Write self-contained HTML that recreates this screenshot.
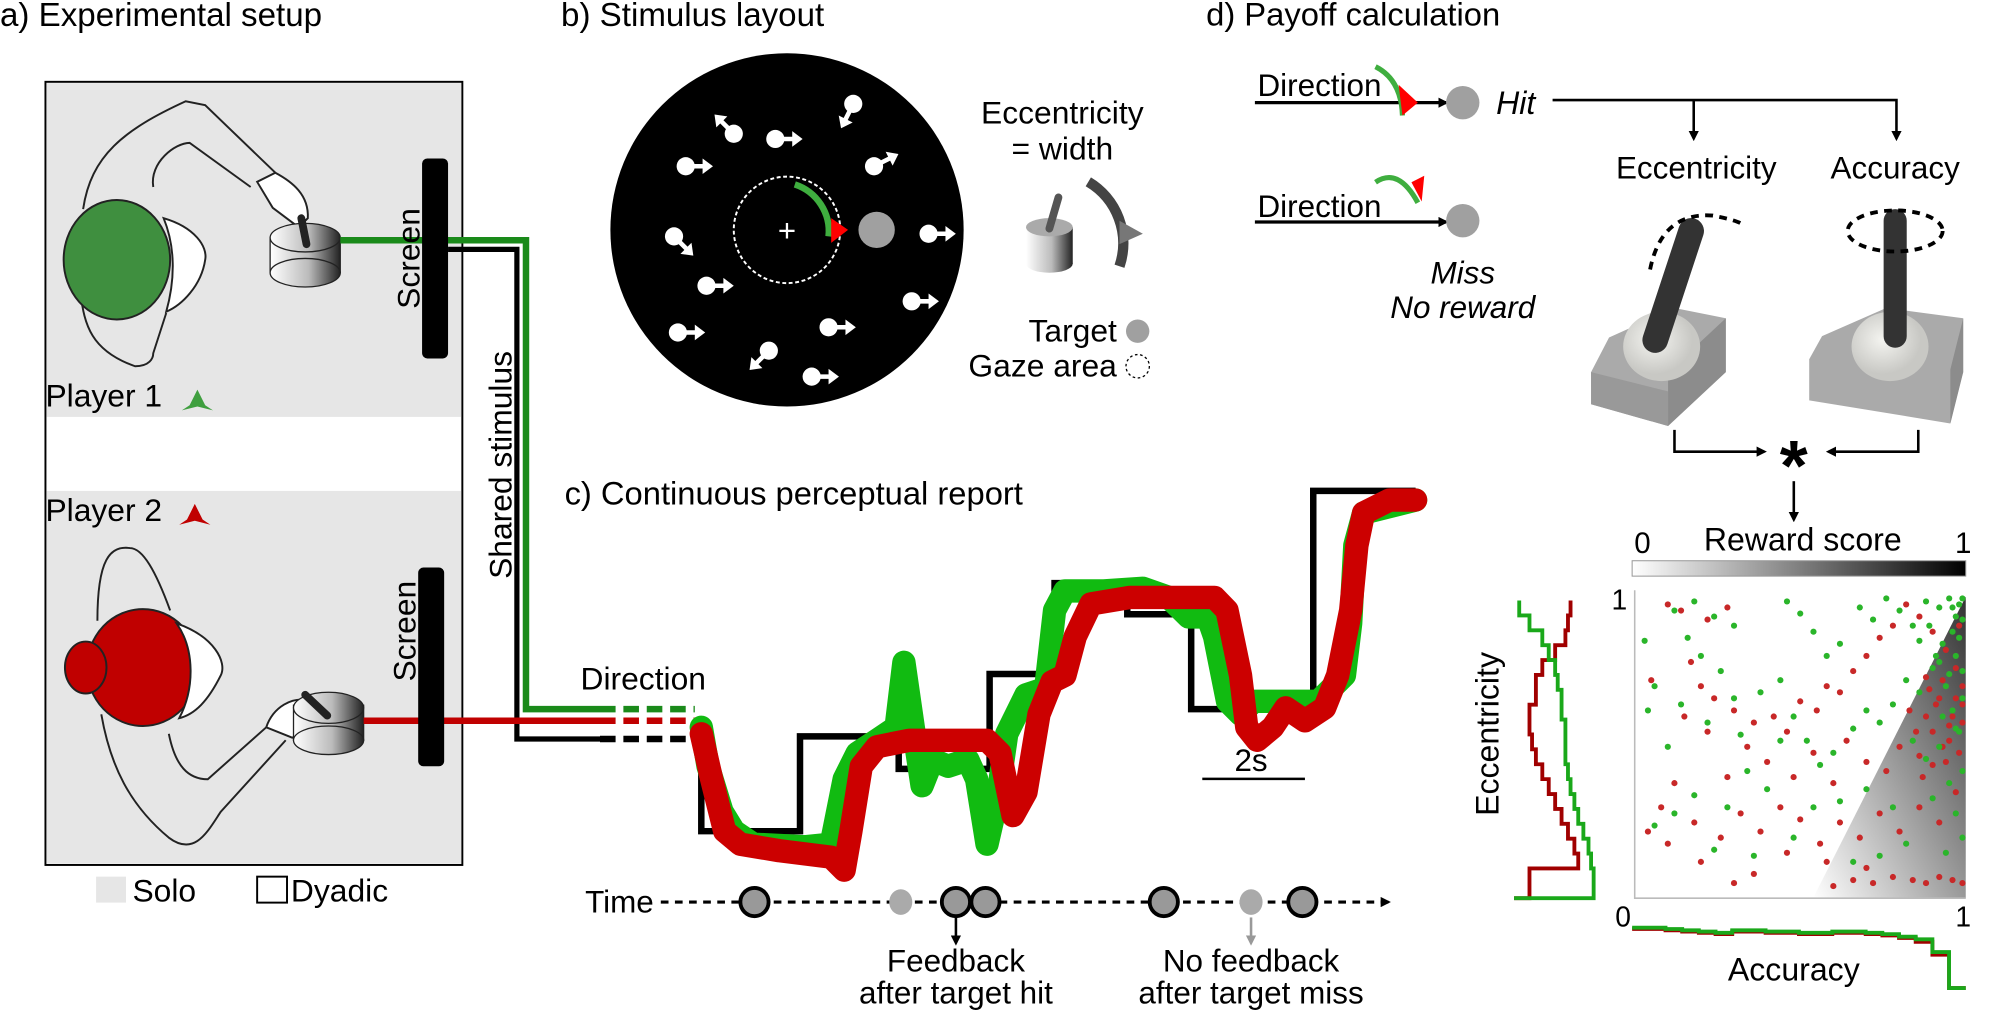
<!DOCTYPE html>
<html><head><meta charset="utf-8"><style>
html,body{margin:0;padding:0;background:#fff;}
svg{display:block;font-family:"Liberation Sans",sans-serif;}
</style></head><body>
<svg id="fig" width="2013" height="1016" viewBox="0 0 1550 782.3" preserveAspectRatio="none" xmlns="http://www.w3.org/2000/svg">
<defs>
<linearGradient id="cyl" x1="0" x2="1"><stop offset="0" stop-color="#fff"/><stop offset="0.55" stop-color="#bbb"/><stop offset="1" stop-color="#222"/></linearGradient>
<linearGradient id="cbar" x1="0" x2="1"><stop offset="0" stop-color="#fff"/><stop offset="1" stop-color="#000"/></linearGradient>
<linearGradient id="tri" x1="0" y1="1" x2="1" y2="0"><stop offset="0" stop-color="#fff"/><stop offset="1" stop-color="#333"/></linearGradient>
<radialGradient id="ball" cx="0.4" cy="0.4"><stop offset="0" stop-color="#f4f4f0"/><stop offset="1" stop-color="#c8c8c4"/></radialGradient>
<marker id="ah" markerWidth="8" markerHeight="8" refX="6" refY="4" orient="auto" markerUnits="userSpaceOnUse"><path d="M0,0 L8,4 L0,8 Z" fill="#000"/></marker>
<marker id="ahg" markerWidth="8" markerHeight="8" refX="6" refY="4" orient="auto" markerUnits="userSpaceOnUse"><path d="M0,0 L8,4 L0,8 Z" fill="#999"/></marker>
</defs>

<!-- Panel a -->
<g>
<text x="0" y="20" font-size="25.5">a) Experimental setup</text>
<rect x="35" y="63" width="321" height="603" fill="#fff" stroke="#000" stroke-width="1.5"/>
<rect x="36" y="64" width="319" height="257" fill="#e6e6e6"/>
<rect x="36" y="378" width="319" height="287" fill="#e6e6e6"/>
<g fill="none" stroke="#222" stroke-width="1.5">
<path d="M64,161 C70,120 95,100 143,78 L158,81 L212,133"/>
<path d="M118,144 C115,125 135,110 146,110 L193,144"/>
<path d="M212,133 C225,140 238,150 237,168 L230,175 L210,160 L198,140 Z" fill="#fff"/>
<path d="M62,226 C65,250 70,270 104,282 C115,282 118,276 118,272 L128,241"/>
<ellipse cx="90" cy="200" rx="41" ry="46" fill="#3f8f3f"/>
<path d="M126,168 C150,175 160,190 158,200 C155,220 140,235 128,240 C135,215 135,190 126,168 Z" fill="#fff"/>
</g>
<g>
<rect x="208" y="183" width="54" height="27" fill="url(#cyl)" stroke="#222"/>
<ellipse cx="235" cy="210" rx="27" ry="11" fill="url(#cyl)" stroke="#222"/>
<ellipse cx="235" cy="183" rx="27" ry="11" fill="url(#cyl)" stroke="#222"/>
<line x1="232" y1="168" x2="236" y2="188" stroke="#222" stroke-width="6" stroke-linecap="round"/>
</g>
<g fill="none" stroke="#222" stroke-width="1.5">
<path d="M75,478 C75,430 85,420 100,422 C110,422 120,440 131,470"/>
<path d="M78,550 C85,590 100,620 130,645 C150,660 160,640 170,625 L220,570"/>
<path d="M130,565 C135,590 145,600 160,600 L205,560"/>
<path d="M205,560 C210,545 225,535 240,540 L245,560 L225,568 Z" fill="#fff"/>
<ellipse cx="110" cy="514" rx="43" ry="45" fill="#c00000"/>
<path d="M136,480 C165,490 175,510 170,520 C160,540 150,550 138,553 C150,530 150,500 136,480 Z" fill="#fff"/>
<ellipse cx="66" cy="514" rx="16" ry="20" fill="#c00000"/>
</g>
<g>
<rect x="226" y="543" width="54" height="27" fill="url(#cyl)" stroke="#222"/>
<ellipse cx="253" cy="570" rx="27" ry="11" fill="url(#cyl)" stroke="#222"/>
<ellipse cx="253" cy="545" rx="27" ry="12" fill="url(#cyl)" stroke="#222"/>
<line x1="235" y1="535" x2="252" y2="551" stroke="#222" stroke-width="6" stroke-linecap="round"/>
</g>
<polyline points="262,185 405,185 405,546 462,546" fill="none" stroke="#1a8a1a" stroke-width="5"/>
<polyline points="345,192 398,192 398,569 462,569" fill="none" stroke="#000" stroke-width="4"/>
<line x1="280" y1="555" x2="462" y2="555" stroke="#c00000" stroke-width="5"/>
<line x1="462" y1="546" x2="535" y2="546" stroke="#1a8a1a" stroke-width="5" stroke-dasharray="12,6"/>
<line x1="462" y1="555" x2="535" y2="555" stroke="#c00000" stroke-width="5" stroke-dasharray="12,6"/>
<line x1="462" y1="569" x2="535" y2="569" stroke="#000" stroke-width="5" stroke-dasharray="12,6"/>
<rect x="325" y="122" width="20" height="154" rx="4" fill="#000"/>
<rect x="322" y="437" width="20" height="153" rx="4" fill="#000"/>
<text transform="translate(323,199) rotate(-90)" font-size="24.5" text-anchor="middle">Screen</text>
<text transform="translate(320,486) rotate(-90)" font-size="24.5" text-anchor="middle">Screen</text>
<text transform="translate(394,358) rotate(-90)" font-size="24.5" text-anchor="middle">Shared stimulus</text>
<text x="35" y="313" font-size="24.5">Player 1</text>
<path d="M152,300 L146,312 L140,316 L152,313 L164,316 L158,312 Z" fill="#3f9f3f"/>
<text x="35" y="401" font-size="24.5">Player 2</text>
<path d="M150,388 L144,400 L138,404 L150,401 L162,404 L156,400 Z" fill="#c00000"/>
<rect x="74" y="675" width="23" height="20" fill="#e6e6e6"/>
<text x="102" y="694" font-size="24.5">Solo</text>
<rect x="198" y="675" width="23" height="20" fill="#fff" stroke="#000" stroke-width="1.5"/>
<text x="224" y="694" font-size="24.5">Dyadic</text>
</g>

<!-- Panel b -->
<g>
<text x="432" y="20" font-size="25.5">b) Stimulus layout</text>
<circle cx="606" cy="177" r="136" fill="#000"/>
<circle cx="606" cy="177" r="41" fill="none" stroke="#fff" stroke-width="1.5" stroke-dasharray="3,2"/>
<text x="606" y="186" font-size="24" fill="#fff" text-anchor="middle">+</text>
<circle cx="675" cy="177" r="14" fill="#a0a0a0"/>
<path d="M612,142 A38,38 0 0 1 638,182" fill="none" stroke="#3fae3f" stroke-width="5"/>
<path d="M640,168 L653,177 L640,187 Z" fill="#f00"/>
<g id="dots" fill="#fff"></g>
<text x="818" y="95" font-size="24.5" text-anchor="middle">Eccentricity</text>
<text x="818" y="123" font-size="24.5" text-anchor="middle">= width</text>
<g>
<rect x="790" y="175" width="36" height="28" fill="url(#cyl)"/>
<ellipse cx="808" cy="203" rx="18" ry="7" fill="url(#cyl)"/>
<ellipse cx="808" cy="175" rx="18" ry="7" fill="#aaa"/>
<line x1="808" y1="176" x2="815" y2="152" stroke="#555" stroke-width="6" stroke-linecap="round"/>
<path d="M838,140 A55,55 0 0 1 862,205" fill="none" stroke="#444" stroke-width="8"/>
<path d="M862,170 L880,180 L862,188 Z" fill="#777"/>
</g>
<text x="860" y="263" font-size="24.5" text-anchor="end">Target</text>
<circle cx="876" cy="255" r="9" fill="#a0a0a0"/>
<text x="860" y="290" font-size="24.5" text-anchor="end">Gaze area</text>
<circle cx="876" cy="282" r="9" fill="none" stroke="#000" stroke-dasharray="2,2"/>
</g>

<!-- Panel d -->
<g transform="scale(0.988)">
<text x="940" y="20" font-size="25.5">d) Payoff calculation</text>
<text x="980" y="75" font-size="24.5">Direction</text>
<line x1="978" y1="80" x2="1127" y2="80" stroke="#000" stroke-width="2.5" marker-end="url(#ah)"/>
<path d="M1072,52 Q1092,62 1093,90" fill="none" stroke="#3fae3f" stroke-width="4"/>
<path d="M1090,66 L1105,80 L1093,90 Z" fill="#f00"/>
<circle cx="1140" cy="80" r="13" fill="#a0a0a0"/>
<text x="1166" y="89" font-size="25" font-style="italic">Hit</text>
<polyline points="1210,78 1478,78 1478,108" fill="none" stroke="#000" stroke-width="2" marker-end="url(#ah)"/>
<line x1="1320" y1="78" x2="1320" y2="108" stroke="#000" stroke-width="2" marker-end="url(#ah)"/>
<text x="980" y="169" font-size="24.5">Direction</text>
<line x1="978" y1="173" x2="1127" y2="173" stroke="#000" stroke-width="2.5" marker-end="url(#ah)"/>
<path d="M1072,142 Q1090,130 1105,158" fill="none" stroke="#3fae3f" stroke-width="4"/>
<path d="M1100,142 L1110,137 L1108,157 Z" fill="#f00"/>
<circle cx="1140" cy="172" r="13" fill="#a0a0a0"/>
<text x="1140" y="221" font-size="24.5" font-style="italic" text-anchor="middle">Miss</text>
<text x="1140" y="248" font-size="24.5" font-style="italic" text-anchor="middle">No reward</text>
<text x="1322" y="139" font-size="24.5" text-anchor="middle">Eccentricity</text>
<text x="1477" y="139" font-size="24.5" text-anchor="middle">Accuracy</text>
<g>
<polygon points="1254,263 1305,240 1345,248 1345,290 1300,332 1240,315 1240,290" fill="#aaa"/>
<polygon points="1300,290 1345,248 1345,290 1300,332" fill="#8c8c8c"/>
<polygon points="1240,290 1300,305 1300,332 1240,315" fill="#999"/>
<ellipse cx="1295" cy="270" rx="30" ry="27" fill="url(#ball)"/>
<line x1="1290" y1="265" x2="1318" y2="180" stroke="#333" stroke-width="20" stroke-linecap="round"/>
<path d="M1286,210 Q1295,165 1335,168 Q1355,172 1358,175" fill="none" stroke="#000" stroke-width="3" stroke-dasharray="6,5"/>
</g>
<g>
<polygon points="1420,262 1470,240 1530,248 1530,290 1520,330 1410,312 1410,280" fill="#aaa"/>
<polygon points="1520,288 1530,248 1530,290 1520,330" fill="#8c8c8c"/>
<ellipse cx="1473" cy="270" rx="30" ry="27" fill="url(#ball)"/>
<line x1="1477" y1="262" x2="1477" y2="172" stroke="#333" stroke-width="18" stroke-linecap="round"/>
<ellipse cx="1477" cy="180" rx="37" ry="16" fill="none" stroke="#000" stroke-width="3" stroke-dasharray="6,5"/>
</g>
<polyline points="1305,335 1305,352 1375,352" fill="none" stroke="#000" stroke-width="2" marker-end="url(#ah)"/>
<polyline points="1495,335 1495,352 1425,352" fill="none" stroke="#000" stroke-width="2" marker-end="url(#ah)"/>
<text x="1398" y="382" font-size="56" font-weight="bold" text-anchor="middle">*</text>
<line x1="1398" y1="375" x2="1398" y2="405" stroke="#000" stroke-width="2" marker-end="url(#ah)"/>
</g>

<!-- Reward chart -->
<g transform="scale(0.988)">
<text x="1280" y="431" font-size="23" text-anchor="middle">0</text>
<text x="1405" y="429" font-size="25" text-anchor="middle">Reward score</text>
<text x="1530" y="431" font-size="23" text-anchor="middle">1</text>
<rect x="1272" y="437" width="260" height="12" fill="url(#cbar)" stroke="#999" stroke-width="0.8"/>
<polygon points="1413,700 1532,465 1532,700" fill="url(#tri)"/>
<polyline points="1274,460 1274,700 1532,700" fill="none" stroke="#bbb" stroke-width="1.2"/>
<g id="scatter"></g>
<g id="hists"></g>
<text x="1262" y="475" font-size="22" text-anchor="middle">1</text>
<text x="1265" y="722" font-size="22" text-anchor="middle">0</text>
<text x="1530" y="722" font-size="22" text-anchor="middle">1</text>
<text transform="translate(1168,572) rotate(-90)" font-size="25" text-anchor="middle">Eccentricity</text>
<text x="1398" y="764" font-size="25" text-anchor="middle">Accuracy</text>
</g>

<!-- Panel c -->
<g>
<text x="447" y="531" font-size="24.5">Direction</text>
<g id="traces"></g>
<g transform="scale(0.988)">
<text x="440" y="393" font-size="25.5">c) Continuous perceptual report</text>
<text x="975" y="601" font-size="24.5" text-anchor="middle">2s</text>
<line x1="937" y1="607" x2="1017" y2="607" stroke="#000" stroke-width="2"/>
<text x="456" y="711" font-size="24.5">Time</text>
<line x1="515" y1="703" x2="1082" y2="703" stroke="#000" stroke-width="2.5" stroke-dasharray="6,5" marker-end="url(#ah)"/>
<g id="events"></g>
<line x1="745" y1="715" x2="745" y2="735" stroke="#000" stroke-width="2" marker-end="url(#ah)"/>
<line x1="975" y1="715" x2="975" y2="735" stroke="#999" stroke-width="2" marker-end="url(#ahg)"/>
<text x="745" y="757" font-size="24.5" text-anchor="middle">Feedback</text>
<text x="745" y="782" font-size="24.5" text-anchor="middle">after target hit</text>
<text x="975" y="757" font-size="24.5" text-anchor="middle">No feedback</text>
<text x="975" y="782" font-size="24.5" text-anchor="middle">after target miss</text>
</g>
</g>
</svg>
<script>
// ---- panel c data (time in s, direction value in arbitrary units) ----
var stimTimes = [-0.1, 0, 1.9, 3.8, 5.55, 6.8, 8.2, 9.43, 11.78, 13.75];
var stimValues = [91, 20, 93, 68, 141, 211, 187, 114, 282, 282];
var redTimes = [0,0.2,0.45,0.75,1.5,2.5,2.75,2.88,3.08,3.38,4,4.5,5.5,5.75,6,6.25,6.5,6.75,7,7.2,7.5,8.25,9,9.88,10.12,10.38,10.5,10.7,11,11.25,11.62,12,12.25,12.5,12.62,12.75,13.25,13.75];
var redValues = [95,60,20,10,5,0,-10,20,70,85,90,90,90,80,32,50,110,135,140,170,195,200,200,200,190,140,100,90,100,115,105,115,140,190,240,265,275,275];
var greenTimes = [0,0.13,0.4,0.63,1,2,2.5,2.75,3,3.38,3.75,3.9,4.08,4.25,4.45,4.75,5.13,5.3,5.5,5.7,5.88,6.25,6.63,6.8,7,7.75,8.5,9,9.38,9.75,9.88,10.13,10.38,10.63,11,11.5,11.88,12.13,12.38,12.5,12.58,12.75,13.25,13.75];
var greenValues = [100,70,35,20,10,8,10,60,80,90,100,150,100,55,75,70,75,60,10,45,95,125,130,190,205,205,207,200,185,185,170,120,110,120,120,120,120,130,140,180,240,265,270,275];
// ---- scatter data (accuracy, eccentricity in 0..1) ----
var redAcc = [0.10,0.14,0.22,0.28,0.05,0.17,0.20,0.24,0.30,0.36,0.42,0.46,0.50,0.55,0.58,0.62,0.66,0.70,0.74,0.78,0.82,0.86,0.90,0.94,0.97,0.99,0.92,0.88,0.85,0.95,0.98,0.90,0.80,0.76,0.70,0.64,0.60,0.54,0.48,0.40,0.34,0.28,0.22,0.15,0.12,0.08,0.18,0.26,0.32,0.38,0.44,0.50,0.56,0.62,0.68,0.74,0.80,0.86,0.92,0.97,0.96,0.93,0.98,0.90,0.83,0.87,0.94,0.99,0.30,0.36,0.60,0.66,0.72,0.78,0.84,0.88,0.92,0.96,0.99,0.70,0.58,0.46,0.20,0.10,0.04,0.91,0.95,0.89,0.97,0.93,0.86,0.99,0.88];
var redEcc = [0.97,0.95,0.92,0.96,0.72,0.78,0.70,0.66,0.62,0.58,0.60,0.55,0.65,0.62,0.70,0.68,0.75,0.80,0.86,0.90,0.97,0.93,0.88,0.82,0.76,0.70,0.66,0.60,0.55,0.52,0.48,0.44,0.50,0.42,0.45,0.52,0.38,0.48,0.40,0.45,0.50,0.40,0.55,0.60,0.38,0.30,0.25,0.20,0.28,0.22,0.30,0.26,0.18,0.25,0.20,0.28,0.22,0.30,0.25,0.35,0.60,0.72,0.90,0.55,0.62,0.40,0.45,0.58,0.05,0.08,0.04,0.06,0.05,0.07,0.06,0.05,0.07,0.06,0.05,0.10,0.12,0.15,0.12,0.18,0.22,0.64,0.57,0.69,0.66,0.50,0.47,0.64,0.73];
var greenAcc = [0.03,0.06,0.12,0.18,0.24,0.30,0.46,0.50,0.54,0.58,0.62,0.68,0.72,0.76,0.80,0.84,0.88,0.92,0.95,0.98,0.99,0.96,0.93,0.97,0.99,0.94,0.90,0.86,0.82,0.78,0.74,0.70,0.66,0.96,0.98,0.92,0.88,0.84,0.99,0.95,0.90,0.97,0.99,0.94,0.16,0.20,0.26,0.14,0.22,0.32,0.38,0.44,0.48,0.52,0.56,0.60,0.40,0.34,0.28,0.18,0.12,0.06,0.24,0.36,0.48,0.62,0.70,0.78,0.82,0.74,0.66,0.54,0.44,0.10,0.04,0.30,0.86,0.91,0.97,0.98,0.95,0.99,0.93,0.97,0.89,0.96,0.99,0.92];
var greenEcc = [0.85,0.70,0.95,0.98,0.93,0.90,0.98,0.94,0.88,0.80,0.84,0.96,0.92,0.99,0.95,0.90,0.98,0.96,0.99,0.97,0.92,0.88,0.84,0.80,0.75,0.70,0.76,0.68,0.72,0.64,0.58,0.62,0.56,0.62,0.55,0.50,0.46,0.52,0.42,0.38,0.33,0.28,0.20,0.15,0.86,0.80,0.75,0.64,0.58,0.54,0.68,0.72,0.60,0.52,0.44,0.48,0.36,0.42,0.30,0.34,0.28,0.24,0.16,0.14,0.20,0.32,0.36,0.30,0.18,0.14,0.12,0.30,0.52,0.50,0.62,0.66,0.85,0.80,0.93,0.86,0.74,0.66,0.60,0.56,0.90,0.96,0.99,0.78];
// ---- marginal histograms (counts per bin) ----
var eccBinsGreen = [4,12,22,27,32,34,37,37,40,40,40,42,44,47,50,54,58,60,62,62];
var eccBinsRed = [44,42,40,32,22,17,17,12,12,14,17,22,27,32,37,42,47,50,12,12];
var accBinsGreen = [3,3,4,5,6,7,5,5,6,6,7,7,6,6,7,8,10,12,22,50];
var accBinsRed = [4,4,5,6,7,8,6,6,7,7,8,8,7,7,8,9,11,14,24,50];

var NS = "http://www.w3.org/2000/svg";
function mk(tag, attrs, parent){var e=document.createElementNS(NS,tag);for(var k in attrs)e.setAttribute(k,attrs[k]);parent.appendChild(e);return e;}
function tx(t){return 540 + t*40;}
function vy(v){return 660 - v;}
function sx(a){return 1274 + a*258;}
function sy(e){return 700 - e*236;}

var traces = document.getElementById('traces');
var sp = [];
for (var i=0;i<stimTimes.length-1;i++){ sp.push(tx(stimTimes[i])+','+vy(stimValues[i])); sp.push(tx(stimTimes[i+1])+','+vy(stimValues[i])); }
var st = mk('polyline',{points:sp.join(' '),fill:'none',stroke:'#000','stroke-width':5},traces);


function trace(ts, vs, col, name){
  var p = ts.map(function(t,i){return tx(t)+','+vy(vs[i]);}).join(' ');
  var l = mk('polyline',{points:p,fill:'none',stroke:col,'stroke-width':18,'stroke-linejoin':'round','stroke-linecap':'round'},traces);
  
  
}
trace(greenTimes, greenValues, '#11bb11', 'player-1-report');
trace(redTimes, redValues, '#cc0000', 'player-2-report');

var evX = [588,702,745,768,907,975,1015], evHit=[1,0,1,1,1,0,1];
var evg = document.getElementById('events');
evX.forEach(function(x,i){
  var c = evHit[i] ? mk('ellipse',{cx:x,cy:703,rx:11,ry:11,fill:'#999',stroke:'#000','stroke-width':3},evg) : mk('ellipse',{cx:x,cy:703,rx:9,ry:10,fill:'#aaa'},evg);
  
  
});

var dotPos = [[565,103,-1,-1],[657,80,-0.5,1],[597,107,1,0],[528,128,1,0],[673,128,1,-0.5],[519,182,1,1],[715,180,1,0],[544,220,1,0],[702,232,1,0],[638,252,1,0],[592,270,-1,1],[522,256,1,0],[625,290,1,0]];
var dg = document.getElementById('dots');
dotPos.forEach(function(d){
  var g = mk('g',{},dg);
  
  
  mk('circle',{cx:d[0],cy:d[1],r:7,fill:'#fff'},g);
  var len=Math.hypot(d[2],d[3]);var ux=d[2]/len, uy=d[3]/len;
  mk('line',{x1:d[0],y1:d[1],x2:d[0]+ux*15,y2:d[1]+uy*15,stroke:'#fff','stroke-width':3.5},g);
  var hx=d[0]+ux*21, hy=d[1]+uy*21;
  mk('polygon',{points:hx+','+hy+' '+(hx-ux*8-uy*6)+','+(hy-uy*8+ux*6)+' '+(hx-ux*8+uy*6)+','+(hy-uy*8-ux*6),fill:'#fff'},g);
});

var sg = document.getElementById('scatter');
redAcc.forEach(function(a,i){
  var c = mk('circle',{cx:sx(a),cy:sy(redEcc[i]),r:2.4,fill:'#c82828'},sg);
  
  
});
greenAcc.forEach(function(a,i){
  var c = mk('circle',{cx:sx(a),cy:sy(greenEcc[i]),r:2.4,fill:'#2ab52a'},sg);
  
  
});

var hg = document.getElementById('hists');
function eccHist(bins,col,name){
  var n=bins.length, h=(700-468)/n, p=[];
  bins.forEach(function(c,i){var x=1180+c; p.push(x+','+(468+i*h)); p.push(x+','+(468+(i+1)*h));});
  p.push('1180,'+700);
  var l=mk('polyline',{points:p.join(' '),fill:'none',stroke:col,'stroke-width':3},hg);
  
  
}
function accHist(bins,col,name){
  var n=bins.length, w=(1532-1272)/n, p=[];
  bins.forEach(function(c,i){var y=720+c; p.push((1272+i*w)+','+y); p.push((1272+(i+1)*w)+','+y);});
  var l=mk('polyline',{points:p.join(' '),fill:'none',stroke:col,'stroke-width':3},hg);
  
  
}
eccHist(eccBinsRed,'#a00000','eccentricity-hist-red');
eccHist(eccBinsGreen,'#1aa81a','eccentricity-hist-green');
accHist(accBinsRed,'#a00000','accuracy-hist-red');
accHist(accBinsGreen,'#1aa81a','accuracy-hist-green');
</script>
</body></html>
